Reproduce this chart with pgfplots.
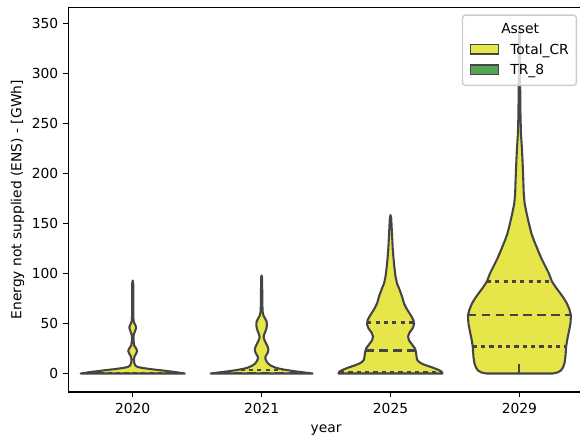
\documentclass[border=0pt]{standalone}
\usepackage{fontspec}
\setmainfont{DejaVu Sans}
\usepackage{pgfplots}
\pgfplotsset{compat=1.18}
\definecolor{vfill}{RGB}{230,230,74}
\definecolor{vgreen}{RGB}{85,163,85}
\definecolor{vedge}{RGB}{69,69,69}
\pgfplotsset{
  violin/.style={fill=vfill, draw=vedge, line width=1.5bp, line join=round, forget plot},
  qdot/.style={draw=vedge, line width=1.5bp, dash pattern=on 3bp off 3bp, forget plot},
  qdash/.style={draw=vedge, line width=1.5bp, dash pattern=on 6bp off 4bp, forget plot},
}
\begin{document}
\begin{tikzpicture}
\useasboundingbox (0,0) rectangle (417.6bp,316.08bp);
\begin{axis}[
  scale only axis, width=371.3bp, height=276.8bp,
  at={(49.14bp,33.84bp)}, anchor=south west,
  xmin=-64.45, xmax=451.2, ymin=-18.5, ymax=366,
  xtick={0,128.9,257.8,386.7}, xticklabels={2020,2021,2025,2029},
  ytick={0,50,...,350},
  tick align=outside, tick pos=left,
  major tick length=3.5bp,
  every tick/.style={black, line width=0.8bp},
  axis line style={line width=0.8bp, black},
  /pgf/number format/assume math mode=true,
  tick label style={font=\fontsize{10}{12}\selectfont},
  xticklabel style={anchor=north, inner sep=0pt, yshift=-4.6bp},
  yticklabel style={anchor=east, inner sep=0pt, xshift=-3.5bp},
  xlabel={year},
  ylabel={Energy not supplied (ENS) - [GWh]},
  label style={font=\fontsize{10}{12}\selectfont},
  xlabel style={at={(axis description cs:0.5,-0.1055)}, anchor=base, inner sep=0pt},
  ylabel style={at={(axis description cs:-0.0985,0.5)}, anchor=center},
  legend image code/.code={\draw[sharp corners, fill opacity=1, #1] (0bp,0bp) rectangle (20bp,7bp);},
  legend style={at={(1,1)}, anchor=north east, xshift=-5bp, yshift=-5bp,
    draw=black!20, line width=1bp, rounded corners=2bp, fill=white, fill opacity=0.8,
    draw opacity=1, text opacity=1, inner xsep=5.4bp, inner ysep=5.2bp,
    row sep=4.3bp, column sep=8bp, font=\fontsize{10}{12}\selectfont,
    nodes={inner sep=0pt, text height=8bp, text depth=2.5bp},
    cells={anchor=base west}},
]
% legend
\addlegendimage{empty legend}\addlegendentry{\hspace*{-6.5bp}Asset}
\addlegendimage{fill=vfill, draw=vedge, line width=1bp}\addlegendentry{Total\_CR}
\addlegendimage{fill=vgreen, draw=vedge, line width=1bp}\addlegendentry{TR\_8}

% 2020
\addplot[violin] coordinates {(52,0) (42,1.5) (30,3) (17,4.5) (10,5.5) (5,6.5) (2.5,8) (1.5,11) (1.2,14) (1.8,17) (3.5,20) (4.5,22.5) (3.5,25) (1.5,28) (0.8,33) (0.8,38) (1.8,41) (3.2,45) (3.2,47) (1.8,50) (0.8,53) (0.6,60) (0.5,90) (0,93) (-0.5,90) (-0.6,60) (-0.8,53) (-1.8,50) (-3.2,47) (-3.2,45) (-1.8,41) (-0.8,38) (-0.8,33) (-1.5,28) (-3.5,25) (-4.5,22.5) (-3.5,20) (-1.8,17) (-1.2,14) (-1.5,11) (-2.5,8) (-5,6.5) (-10,5.5) (-17,4.5) (-30,3) (-42,1.5) (-52,0)} --cycle;
\addplot[qdot] coordinates {(-50,0.4) (50,0.4)};

% 2021
\addplot[violin] coordinates {(179.9,0) (171.9,1) (163.9,2) (156.9,3) (150.9,4) (145.9,5) (142.4,6) (137.9,8) (135.4,10) (133.9,12) (132.9,14) (132.5,16) (133.4,18) (135.1,21) (135.7,24) (134.9,27) (133.4,30) (131.9,33) (130.9,36) (131.4,39) (132.7,42) (133.9,46) (134.2,49) (133.9,52) (132.4,55) (130.7,58) (129.9,62) (129.6,70) (129.4,96) (128.9,98) (128.4,96) (128.2,70) (127.9,62) (127.1,58) (125.4,55) (123.9,52) (123.6,49) (123.9,46) (125.1,42) (126.4,39) (126.9,36) (125.9,33) (124.4,30) (122.9,27) (122.1,24) (122.7,21) (124.4,18) (125.3,16) (124.9,14) (123.9,12) (122.4,10) (119.9,8) (115.4,6) (111.9,5) (106.9,4) (100.9,3) (93.9,2) (85.9,1) (77.9,0)} --cycle;
\addplot[qdot] coordinates {(107.9,3.8) (149.9,3.8)};
\addplot[qdash] coordinates {(86.9,0.8) (170.9,0.8)};

% 2025
\addplot[violin] coordinates {(309.8,0) (308.8,2) (304.8,4) (299.8,6) (293.8,8) (288.8,10) (285.8,12) (284.3,14) (283.8,17) (283.3,21) (282.3,25) (279.3,29) (276.3,33) (275.3,37) (276.8,41) (279.8,45) (281.3,49) (280.8,53) (278.8,57) (276.3,61) (273.8,65) (271.3,70) (269.3,77) (266.8,84) (264.3,90) (262.8,97) (261.8,105) (260.8,115) (260,125) (259.5,135) (259,145) (258.5,155) (257.8,158.5) (257.1,155) (256.6,145) (256.1,135) (255.6,125) (254.8,115) (253.8,105) (252.8,97) (251.3,90) (248.8,84) (246.3,77) (244.3,70) (241.8,65) (239.3,61) (236.8,57) (234.8,53) (234.3,49) (235.8,45) (238.8,41) (240.3,37) (239.3,33) (236.3,29) (233.3,25) (232.3,21) (231.8,17) (231.3,14) (229.8,12) (226.8,10) (221.8,8) (215.8,6) (210.8,4) (206.8,2) (205.8,0)} --cycle;
\addplot[qdot] coordinates {(234.5,51) (281.1,51)};
\addplot[qdash] coordinates {(232.8,23) (282.8,23)};
\addplot[qdot] coordinates {(207.3,1.5) (308.3,1.5)};

% 2029
\addplot[violin] coordinates {(419.7,0) (424.7,1) (428.2,3) (430.2,6) (431.7,10) (432.7,17) (433.4,27) (434.7,35) (436.2,42) (437.7,50) (438.2,58) (436.7,64) (434.2,70) (431.2,75) (427.7,80) (423.2,86) (419.2,92) (416.2,100) (412.7,107) (408.7,115) (405.7,122) (403.7,127) (401.2,133) (398.7,140) (396.2,150) (393.9,160) (391.9,170) (391,180) (390.5,195) (389.9,210) (389.2,225) (388.2,240) (387.7,260) (387.4,290) (387.2,320) (387,343) (386.7,345) (386.4,343) (386.2,320) (386,290) (385.7,260) (385.2,240) (384.2,225) (383.5,210) (382.9,195) (382.4,180) (381.5,170) (379.5,160) (377.2,150) (374.7,140) (372.2,133) (369.7,127) (367.7,122) (364.7,115) (360.7,107) (357.2,100) (354.2,92) (350.2,86) (345.7,80) (342.2,75) (339.2,70) (336.7,64) (335.2,58) (335.7,50) (337.2,42) (338.7,35) (340,27) (340.7,17) (341.7,10) (343.2,6) (345.2,3) (348.7,1) (353.7,0)} --cycle;
\addplot[qdot] coordinates {(354.2,92) (419.2,92)};
\addplot[qdash] coordinates {(335.2,58.5) (438.2,58.5)};
\addplot[qdot] coordinates {(340,27) (433.4,27)};
\addplot[draw=vedge, line width=1.5bp, forget plot] coordinates {(386.7,0) (386.7,10)};
\end{axis}
\end{tikzpicture}
\end{document}
